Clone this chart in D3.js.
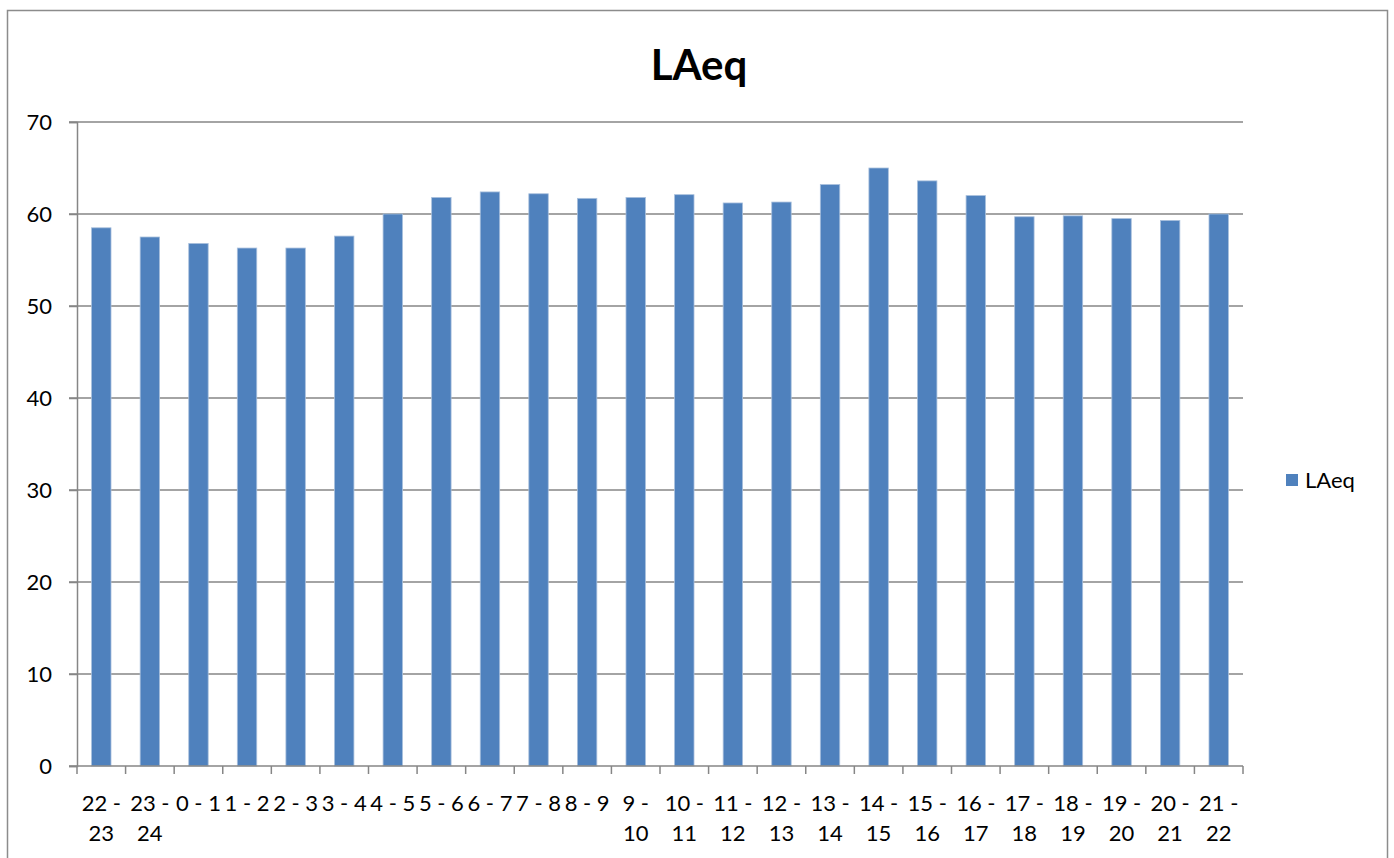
<!DOCTYPE html>
<html>
<head>
<meta charset="utf-8">
<script src="https://cdn.jsdelivr.net/npm/d3@7"></script>
<style>
  body { margin: 0; background: #fff; }
  text { font-family: Lato, "Open Sans", sans-serif; fill: #000; }
</style>
</head>
<body>
<div id="chart"></div>
<script>
// Hour intervals and LAeq values (dB)
const periods = ["22 - 23", "23 - 24", "0 - 1", "1 - 2", "2 - 3", "3 - 4", "4 - 5", "5 - 6",
  "6 - 7", "7 - 8", "8 - 9", "9 - 10", "10 - 11", "11 - 12", "12 - 13", "13 - 14",
  "14 - 15", "15 - 16", "16 - 17", "17 - 18", "18 - 19", "19 - 20", "20 - 21", "21 - 22"];
const laeq = [58.5, 57.5, 56.8, 56.3, 56.3, 57.6, 60.0, 61.8,
  62.4, 62.2, 61.7, 61.8, 62.1, 61.2, 61.3, 63.2,
  65.0, 63.6, 62.0, 59.7, 59.8, 59.5, 59.3, 60.0];
const yTicks = [0, 10, 20, 30, 40, 50, 60, 70];
const seriesName = "LAeq";

const W = 1394, H = 858;
const margin = { top: 122, right: 151, bottom: 92, left: 77 };
const width = W - margin.left - margin.right;
const height = H - margin.top - margin.bottom;

const svg = d3.select("#chart").append("svg")
    .attr("width", W)
    .attr("height", H);

// Chart area border
svg.append("rect")
    .attr("x", 7.5).attr("y", 10.5)
    .attr("width", 1380).attr("height", 860)
    .attr("fill", "none")
    .attr("stroke", "#8c8c8c")
    .attr("stroke-width", 1.5);

const g = svg.append("g")
    .attr("transform", `translate(${margin.left},${margin.top})`);

const x = d3.scaleBand()
    .domain(periods)
    .range([0, width])
    .paddingInner(0.6)
    .paddingOuter(0.3);

const y = d3.scaleLinear()
    .domain([0, 70])
    .range([height, 0]);

// Gridlines
g.append("g")
    .selectAll("line")
    .data(yTicks.filter(d => d > 0))
    .join("line")
    .attr("x1", -8).attr("x2", width)
    .attr("y1", d => y(d)).attr("y2", d => y(d))
    .attr("stroke", "#868686")
    .attr("stroke-width", 1.5);

// Bars
g.append("g")
    .selectAll("rect")
    .data(laeq)
    .join("rect")
    .attr("x", (d, i) => x(periods[i]))
    .attr("y", d => y(d))
    .attr("width", x.bandwidth())
    .attr("height", d => height - y(d))
    .attr("fill", "#4f81bd")
    .attr("stroke", "#a9c0dd")
    .attr("stroke-width", 0.8);

// Y axis
const yAxis = g.append("g")
    .call(d3.axisLeft(y).tickValues(yTicks).tickSize(8).tickPadding(17));
yAxis.select(".domain").attr("stroke", "#868686").attr("stroke-width", 1.5);
yAxis.selectAll(".tick line").attr("stroke", "#868686").attr("stroke-width", 1.5);
yAxis.selectAll(".tick text").style("font-size", "22px");

// X axis: ticks at category boundaries
const step = width / periods.length;
const xAxis = g.append("g").attr("transform", `translate(0,${height})`);
xAxis.append("line")
    .attr("x1", -8).attr("x2", width)
    .attr("stroke", "#868686").attr("stroke-width", 1.5);
xAxis.selectAll(".tk")
    .data(d3.range(periods.length + 1))
    .join("line")
    .attr("class", "tk")
    .attr("x1", i => i * step).attr("x2", i => i * step)
    .attr("y1", 0).attr("y2", 8)
    .attr("stroke", "#868686").attr("stroke-width", 1.5);

// Category labels, wrapped like Excel when a label has a two-digit part
periods.forEach((p, i) => {
    const cx = x(p) + x.bandwidth() / 2;
    const t = xAxis.append("text")
        .attr("text-anchor", "middle")
        .attr("x", cx)
        .attr("y", 45)
        .style("font-size", "22px")
        .text(p);
    if (p.length > 5) {
        const parts = p.split(" - ");
        t.text(null);
        t.append("tspan").attr("x", cx).attr("y", 45).text(parts[0] + " -");
        t.append("tspan").attr("x", cx).attr("y", 75).text(parts[1]);
    }
});

// Title
svg.append("text")
    .attr("x", 699)
    .attr("y", 80)
    .attr("text-anchor", "middle")
    .style("font-size", "42px")
    .style("font-weight", "bold")
    .text("LAeq");

// Legend
const legend = svg.append("g").attr("transform", "translate(1286,474)");
legend.append("rect")
    .attr("width", 12).attr("height", 12)
    .attr("fill", "#4f81bd");
legend.append("text")
    .attr("x", 19).attr("y", 14)
    .style("font-size", "22px")
    .text(seriesName);
</script>
</body>
</html>
